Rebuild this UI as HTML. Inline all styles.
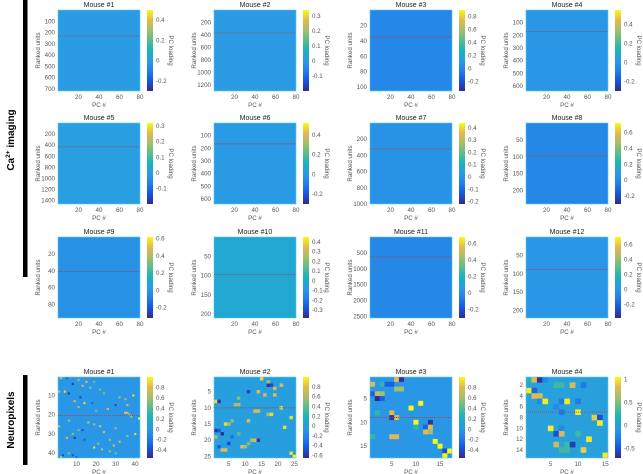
<!DOCTYPE html>
<html><head><meta charset="utf-8">
<style>
body{margin:0;background:#fff;}
svg{display:block;font-family:"Liberation Sans",sans-serif;}
.t{font-size:6.2px;fill:#555;}
.ti{font-size:7px;fill:#222;}
</style></head>
<body>
<svg id="fig" width="643" height="474" viewBox="0 0 643 474" xmlns="http://www.w3.org/2000/svg">
<rect x="0" y="0" width="643" height="474" fill="#fff"/>
<rect x="23" y="0" width="4.5" height="277" fill="#000"/>
<text transform="translate(14,140) rotate(-90)" text-anchor="middle" font-size="10" font-weight="bold" fill="#000">Ca<tspan font-size="6.5" dy="-4">2+</tspan><tspan dy="4"> imaging</tspan></text>
<rect x="23" y="375" width="4.5" height="90" fill="#000"/>
<text transform="translate(14,420) rotate(-90)" text-anchor="middle" font-size="10" font-weight="bold" fill="#000">Neuropixels</text>
</svg>
<script>
// Panel data (Ca imaging)
const caTitles=["Mouse #1","Mouse #2","Mouse #3","Mouse #4","Mouse #5","Mouse #6","Mouse #7","Mouse #8","Mouse #9","Mouse #10","Mouse #11","Mouse #12"];
const caUnits=[720,1300,105,640,1460,640,1000,240,96,210,2550,220];
const caYTicks=[[100,200,300,400,500,600,700],[200,400,600,800,1000,1200],[20,40,60,80,100],[100,200,300,400,500,600],[200,400,600,800,1000,1200,1400],[100,200,300,400,500,600],[200,400,600,800,1000],[50,100,150,200],[20,40,60,80],[50,100,150,200],[500,1000,1500,2000,2500],[50,100,150,200]];
const caLine=[232,370,35,170,430,165,320,97,41,97,630,88];
const caCmin=[-0.3,-0.2,-0.35,-0.3,-0.2,-0.3,-0.22,-0.3,-0.32,-0.38,-0.3,-0.38];
const caCmax=[0.5,0.34,0.9,0.55,0.32,0.52,0.44,0.72,0.62,0.45,0.68,0.7];
const caCTicks=[[-0.2,0,0.2,0.4],[-0.1,0,0.1,0.2,0.3],[-0.2,0,0.2,0.4,0.6,0.8],[-0.2,0,0.2,0.4],[-0.1,0,0.1,0.2,0.3],[-0.2,0,0.2,0.4],[-0.2,-0.1,0,0.1,0.2,0.3,0.4],[-0.2,0,0.2,0.4,0.6],[-0.2,0,0.2,0.4,0.6],[-0.3,-0.2,-0.1,0,0.1,0.2,0.3,0.4],[-0.2,0,0.2,0.4,0.6],[-0.2,0,0.2,0.4,0.6]];
const caBase=[0,0,0,0,0,0,0,-0.01,-0.01,-0.02,-0.02,0];
const caXTicks=[20,40,60,80];
// Neuropixels
const npTitles=["Mouse #1","Mouse #2","Mouse #3","Mouse #4"];
const npUnits=[42,25,17,15];
const npYTicks=[[10,20,30,40],[5,10,15,20,25],[5,10,15],[2,4,6,8,10,12,14]];
const npXTicks=[[10,20,30,40],[5,10,15,20,25],[5,10,15],[5,10,15]];
const npLine=[20,9.5,8.5,6.5];
const npCmin=[-0.55,-0.65,-0.55,-0.7];
const npCmax=[1,1,1,1.05];
const npCTicks=[[-0.4,-0.2,0,0.2,0.4,0.6,0.8],[-0.6,-0.4,-0.2,0,0.2,0.4,0.6,0.8],[-0.4,-0.2,0,0.2,0.4,0.6,0.8],[-0.5,0,0.5,1]];
const np1Cells=[[1,2,0.8],[1,5,-0.3],[2,11,0.6],[3,15,0.8],[3,19,0.5],[4,8,-0.5],[5,13,0.8],[6,17,0.6],[7,22,0.5],[8,1,0.7],[8,4,0.9],[9,6,-0.5],[9,24,0.5],[10,39,0.9],[11,12,-0.4],[11,32,0.6],[12,35,0.6],[13,9,0.8],[14,14,0.9],[14,18,-0.3],[15,30,-0.4],[15,36,0.7],[16,11,0.6],[17,26,0.8],[18,20,0.5],[19,35,0.9],[19,36,0.8],[20,37,0.6],[21,38,0.7],[22,42,1],[23,6,0.6],[24,16,0.8],[25,19,0.6],[26,1,0.8],[26,22,0.8],[27,30,0.6],[28,11,0.5],[28,13,-0.4],[29,24,0.7],[30,8,0.6],[30,40,0.9],[31,36,0.6],[32,5,0.8],[32,9,-0.5],[33,14,-0.3],[33,27,0.6],[34,32,0.8],[35,21,0.6],[36,29,0.8],[37,19,0.9],[38,23,0.7],[39,27,0.6],[40,6,0.6],[40,30,0.5],[41,3,-0.4],[41,8,-0.4],[42,2,0.8],[42,10,-0.3]];
const np2Cells=[[1,15,0.9],[2,17,0.6],[3,17,-0.6],[3,18,-0.5],[3,21,0.8],[4,19,0.8],[5,11,-0.5],[5,14,0.8],[6,16,0.8],[6,19,0.8],[7,8,0.5],[8,1,0.9],[8,2,-0.6],[9,7,0.6],[9,8,0.6],[10,21,0.9],[11,13,0.8],[11,14,0.8],[12,17,0.6],[12,18,0.9],[13,24,0.9],[14,6,0.5],[14,11,0.8],[15,4,0.9],[15,5,0.6],[16,22,0.9],[17,1,-0.6],[17,2,-0.4],[18,3,-0.6],[18,8,0.4],[19,1,0.6],[19,6,-0.3],[20,12,0.6],[20,13,0.8],[20,14,-0.6],[21,5,-0.5],[21,11,0.5],[22,2,-0.4],[22,9,0.8],[22,10,0.6],[23,3,0.8],[23,4,0.8],[24,24,0.9],[25,25,1]];
const np3Cells=[[1,6,0.8],[1,7,-0.5],[2,1,0.8],[2,3,0.3],[2,4,-0.3],[2,5,-0.3],[3,6,0.6],[3,7,0.6],[4,1,-0.3],[4,2,0.7],[4,3,0.6],[5,2,-0.55],[5,3,-0.3],[6,11,1],[7,9,1],[8,2,0.3],[8,5,0.8],[9,5,-0.5],[9,6,0.8],[10,10,1],[10,13,-0.5],[11,10,0.3],[11,12,-0.3],[11,13,0.8],[12,12,0.8],[12,13,0.6],[13,1,0.3],[13,5,0.8],[13,6,0.8],[14,14,1],[15,15,1],[16,16,-0.4],[16,17,1],[17,16,1]];
const np4Cells=[[1,1,0.2],[1,2,0.8],[1,3,-0.65],[1,4,-0.2],[2,6,0.3],[2,7,0.3],[2,9,0.8],[2,11,-0.3],[3,1,1],[3,2,-0.4],[4,2,0.8],[4,3,0.8],[5,3,-0.2],[5,4,1],[5,7,-0.3],[5,8,1],[5,10,-0.3],[6,6,-0.2],[7,7,-0.3],[7,10,1],[8,13,0.9],[8,14,-0.5],[9,14,1],[10,5,1],[10,7,-0.2],[11,6,-0.5],[11,7,0.8],[11,10,0.3],[12,12,1],[13,6,0.75],[13,8,0.3],[13,9,-0.6],[14,7,0.3],[14,8,0.3],[14,11,0.9],[15,15,1]];
const npCells=[np1Cells,np2Cells,np3Cells,np4Cells];

const NS="http://www.w3.org/2000/svg";
const svg=document.getElementById('fig');
const parula=[[53,42,135],[20,85,225],[35,128,232],[42,156,228],[25,178,190],[89,189,140],[165,190,107],[225,185,82],[249,251,14]];
function cmap(v,lo,hi){let t=(v-lo)/(hi-lo);t=Math.max(0,Math.min(1,t));const s=t*8;const i=Math.min(7,Math.floor(s));const f=s-i;const a=parula[i],b=parula[i+1];return `rgb(${Math.round(a[0]+(b[0]-a[0])*f)},${Math.round(a[1]+(b[1]-a[1])*f)},${Math.round(a[2]+(b[2]-a[2])*f)})`;}
function mk(tag,attrs,parent){const e=document.createElementNS(NS,tag);for(const k in attrs)e.setAttribute(k,attrs[k]);(parent||svg).appendChild(e);return e;}
function txt(x,y,s,cls,anchor,parent){const e=mk('text',{x:x,y:y,class:cls,'text-anchor':anchor||'middle'},parent);e.textContent=s;return e;}
let gid=0;
function panel(x0,y0,title,nUnits,yTicks,xTicks,nPC,line,cmin,cmax,cTicks,base,cells,discrete){
  const W=82,H=81;
  const g=mk('g',{});
  
  
  const yScale=discrete?(u=>y0+(u-0.5)/nUnits*H):(u=>y0+u/nUnits*H);
  const xScale=discrete?(c=>x0+(c-0.5)/nPC*W):(c=>x0+c/nPC*W);
  const t=txt(x0+W/2,y0-3,title,'ti','middle',g);
  
  
  const bg=mk('rect',{x:x0,y:y0,width:W,height:H,fill:cmap(base,cmin,cmax)},g);
  
  
  if(cells){
    const cw=W/nPC,ch=H/nUnits;
    cells.forEach(c=>{
      const r=mk('rect',{x:xScale(c[1])-cw/2,y:yScale(c[0])-ch/2,width:cw+0.2,height:ch+0.2,fill:cmap(c[2],cmin,cmax)},g);
      
      
    });
  }
  mk('rect',{x:x0,y:y0,width:W,height:H,fill:'none',stroke:'#5bc8f0','stroke-width':0.6},g);
  const ly=discrete?y0+line/nUnits*H:yScale(line);
  const l=mk('line',{x1:x0,x2:x0+W,y1:ly,y2:ly,stroke:'#b0414f','stroke-width':0.9,'stroke-dasharray':'1 1'},g);
  
  
  yTicks.forEach(v=>{const e=txt(x0-3,yScale(v)+2,String(v),'t','end',g);});
  xTicks.forEach(v=>{const e=txt(xScale(v),y0+H+8,String(v),'t','middle',g);});
  const xl=txt(x0+W/2,y0+H+16,'PC #','t','middle',g);
  
  
  const yl=mk('text',{transform:`translate(${x0-18},${y0+H/2}) rotate(-90)`,class:'t','text-anchor':'middle'},g);
  yl.textContent='Ranked units';
  
  
  const cx=x0+89,cwid=6;
  const id='cg'+(gid++);
  const defs=mk('defs',{},g);
  const lg=mk('linearGradient',{id:id,x1:0,y1:1,x2:0,y2:0},defs);
  parula.forEach((c,i)=>mk('stop',{offset:i/8,'stop-color':`rgb(${c[0]},${c[1]},${c[2]})`},lg));
  const cb=mk('rect',{x:cx,y:y0,width:cwid,height:H,fill:`url(#${id})`},g);
  
  
  const cS=v=>y0+H-(v-cmin)/(cmax-cmin)*H;
  cTicks.forEach(v=>{const e=txt(cx+9,cS(v)+2,String(v),'t','start',g);});
  const cl=mk('text',{transform:`translate(${cx+22},${y0+H/2}) rotate(90)`,class:'t','text-anchor':'middle'},g);
  cl.textContent='PC loading';
  
  
}
const colX=[58,214,370,526];
const rowY=[10,123,237];
for(let i=0;i<12;i++){
  panel(colX[i%4],rowY[Math.floor(i/4)],caTitles[i],caUnits[i],caYTicks[i],caXTicks,80,caLine[i],caCmin[i],caCmax[i],caCTicks[i],caBase[i],null,false);
}
for(let i=0;i<4;i++){
  panel(colX[i],377,npTitles[i],npUnits[i],npYTicks[i],npXTicks[i],npUnits[i],npLine[i],npCmin[i],npCmax[i],npCTicks[i],0,npCells[i],true);
}
</script>
</body></html>
